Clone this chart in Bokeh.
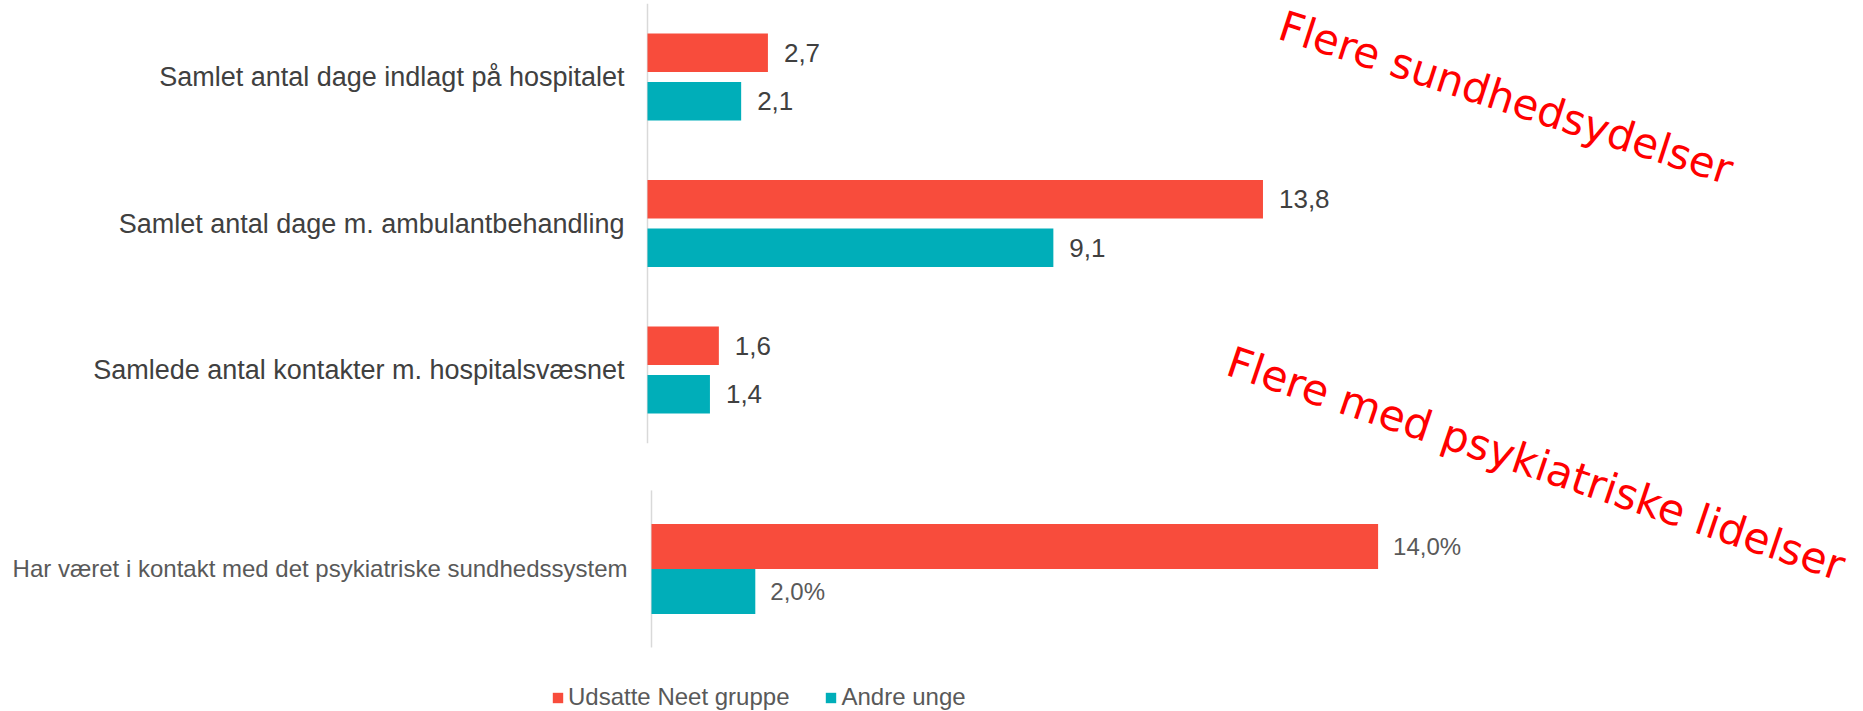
from bokeh.plotting import figure
from bokeh.models import Range1d, Label, Legend, LegendItem, ColumnDataSource
from bokeh.core.properties import value
from bokeh.transform import dodge
from bokeh.embed import file_html
from bokeh.resources import INLINE

# ---------------- data ----------------
top_categories = [
    "Samlet antal dage indlagt på hospitalet",
    "Samlet antal dage m. ambulantbehandling",
    "Samlede antal kontakter m. hospitalsvæsnet",
]
top_udsatte = [2.7, 13.8, 1.6]
top_andre = [2.1, 9.1, 1.4]

bottom_categories = ["Har været i kontakt med det psykiatriske sundhedssystem"]
bottom_udsatte = [14.0]   # percent
bottom_andre = [2.0]      # percent

series_names = ["Udsatte Neet gruppe", "Andre unge"]
annotation_texts = ["Flere sundhedsydelser", "Flere med psykiatriske lidelser"]

# ---------------- layout / style ----------------
W, H = 1863, 711
BAND = 146.5            # px per category band
GROUP_GAP = 0.358       # extra gap (in bands) before the bottom chart
FIRST_CENTER_PX = 76.5  # px from top of frame to first category centre
TOP_ZERO_PX, TOP_PX_PER_UNIT = 647, 44.6
BOT_ZERO_PX, BOT_PX_PER_UNIT = 651, 51.9

RED = "#F84C3C"
TEAL = "#00AEB9"
DARK = "#404040"
GREY = "#595959"
AXIS = "#D9D9D9"
FONT = "Liberation Sans"

TOP_OFF, TOP_H = 0.1655, 0.263
BOT_OFF, BOT_H = 0.1536, 0.307
BOT_HALF_BAND = 0.536


def fmt(v, suffix=""):
    return f"{v:.1f}".replace(".", ",") + suffix


top_y = [i for i in range(len(top_categories))]
bottom_y = [len(top_categories) + GROUP_GAP + i for i in range(len(bottom_categories))]

y_top_edge = -FIRST_CENTER_PX / BAND
y_range = Range1d(start=y_top_edge + H / BAND, end=y_top_edge)
x_range = Range1d(start=-TOP_ZERO_PX / TOP_PX_PER_UNIT, end=(W - TOP_ZERO_PX) / TOP_PX_PER_UNIT)

p = figure(width=W, height=H, x_range=x_range, y_range=y_range,
           output_backend="svg", toolbar_location=None,
           x_axis_location=None, y_axis_location=None,
           min_border=0, min_border_left=0, min_border_right=0,
           min_border_top=0, min_border_bottom=0)
p.extra_x_ranges = {"pct": Range1d(start=-BOT_ZERO_PX / BOT_PX_PER_UNIT,
                                   end=(W - BOT_ZERO_PX) / BOT_PX_PER_UNIT)}
p.outline_line_color = None
p.grid.visible = False
p.background_fill_color = "white"
p.border_fill_color = "white"

top_src = ColumnDataSource(dict(
    cat=top_categories, y=top_y, u=top_udsatte, a=top_andre,
    lu=[fmt(v) for v in top_udsatte], la=[fmt(v) for v in top_andre],
))
bot_src = ColumnDataSource(dict(
    cat=bottom_categories, y=bottom_y, u=bottom_udsatte, a=bottom_andre,
    lu=[fmt(v, "%") for v in bottom_udsatte], la=[fmt(v, "%") for v in bottom_andre],
    y0=[y - BOT_HALF_BAND for y in bottom_y], y1=[y + BOT_HALF_BAND for y in bottom_y],
))

# axis lines
p.segment(x0=0, x1=0, y0=top_y[0] - 0.5, y1=top_y[-1] + 0.5, line_color=AXIS, line_width=1.5)
p.segment(x0=0, x1=0, y0="y0", y1="y1", source=bot_src, line_color=AXIS, line_width=1.5,
          x_range_name="pct")

# top bars
r_red = p.hbar(y=dodge("y", -TOP_OFF, range=p.y_range), left=0, right="u", height=TOP_H,
               source=top_src, fill_color=RED, line_color=None)
r_teal = p.hbar(y=dodge("y", TOP_OFF, range=p.y_range), left=0, right="a", height=TOP_H,
                source=top_src, fill_color=TEAL, line_color=None)
# bottom bars
p.hbar(y=dodge("y", -BOT_OFF, range=p.y_range), left=0, right="u", height=BOT_H,
       source=bot_src, fill_color=RED, line_color=None, x_range_name="pct")
p.hbar(y=dodge("y", BOT_OFF, range=p.y_range), left=0, right="a", height=BOT_H,
       source=bot_src, fill_color=TEAL, line_color=None, x_range_name="pct")

# value labels
for col, lab, off in (("u", "lu", -TOP_OFF), ("a", "la", TOP_OFF)):
    p.text(x=col, y=dodge("y", off, range=p.y_range), text=lab, source=top_src,
           x_offset=16, text_align="left", text_baseline="middle",
           text_font=value(FONT), text_font_size="26px", text_color=DARK)
for col, lab, off in (("u", "lu", -BOT_OFF), ("a", "la", BOT_OFF)):
    p.text(x=col, y=dodge("y", off, range=p.y_range), text=lab, source=bot_src,
           x_offset=15, text_align="left", text_baseline="middle",
           text_font=value(FONT), text_font_size="24px", text_color=GREY,
           x_range_name="pct")

# category labels
p.text(x=0, y="y", text="cat", source=top_src, x_offset=-23, text_align="right",
       text_baseline="middle", text_font=value(FONT), text_font_size="27px", text_color=DARK)
p.text(x=0, y="y", text="cat", source=bot_src, x_offset=-24, text_align="right",
       text_baseline="middle", text_font=value(FONT), text_font_size="24px", text_color=GREY,
       x_range_name="pct")


# rotated red annotations (placed in pixel terms, converted to data units)
def px_x(px):
    return (px - TOP_ZERO_PX) / TOP_PX_PER_UNIT


def px_y(px):
    return y_top_edge + px / BAND


for txt, (ax, ay), fs, ang in zip(annotation_texts, [(1280, 24), (1228, 360)],
                                  ["42px", "42.5px"], [-18, -18.6]):
    p.add_layout(Label(x=px_x(ax), y=px_y(ay), text=txt, angle=ang, angle_units="deg",
                       text_font="DejaVu Sans", text_font_size=fs, text_color="#FF0000",
                       text_align="left", text_baseline="alphabetic"))

legend = Legend(items=[LegendItem(label=series_names[0], renderers=[r_red]),
                       LegendItem(label=series_names[1], renderers=[r_teal])],
                orientation="horizontal", location=(551, 0),
                glyph_width=13, glyph_height=13, label_standoff=4, spacing=35,
                padding=0, margin=0, border_line_color=None, background_fill_alpha=0,
                label_text_font=FONT, label_text_font_size="24px", label_text_color=GREY)
p.add_layout(legend, "center")

open("out.html", "w").write(file_html(p, INLINE))
